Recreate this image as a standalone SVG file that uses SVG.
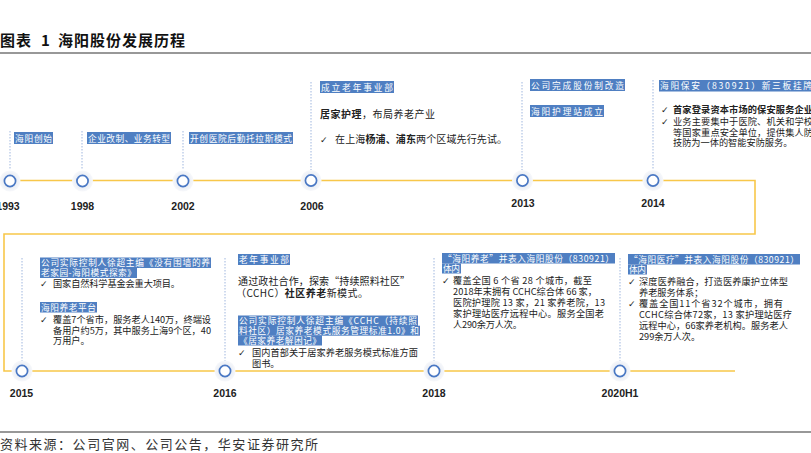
<svg xmlns="http://www.w3.org/2000/svg" width="811" height="453" viewBox="0 0 811 453">
<style>
.t{font-family:"Noto Sans CJK SC","Liberation Sans",sans-serif;}
.title{font-family:"Noto Sans CJK SC",sans-serif;font-size:15px;font-weight:bold;fill:#111;}
.hl{fill:#4f7fc2;}
.ht{font-family:"Noto Sans CJK SC",sans-serif;font-size:8.7px;fill:#fff;}
.bt{font-family:"Noto Sans CJK SC",sans-serif;font-size:9.2px;fill:#222;}
.bt10{font-family:"Noto Sans CJK SC",sans-serif;font-size:10px;fill:#222;}
.ck{font-family:"DejaVu Sans",sans-serif;font-size:9px;fill:#222;}
.b{font-weight:bold;}
.yr{font-family:"Liberation Sans",sans-serif;font-size:10.5px;font-weight:bold;fill:#222;text-anchor:middle;}
.dot{stroke:#9fb6de;stroke-width:1;stroke-dasharray:1.5 1.5;fill:none;}
.tl{stroke:#f8c74a;stroke-width:1.6;fill:none;}
.rule{stroke:#333;stroke-width:1.2;}
.src{font-family:"Noto Sans CJK SC",sans-serif;font-size:13px;fill:#333;}
</style>
<defs>
<radialGradient id="halo">
<stop offset="0.55" stop-color="#e9edf4"/>
<stop offset="1" stop-color="#f7f8fb"/>
</radialGradient>
<g id="knot">
<circle r="10.5" fill="url(#halo)"/>
<circle r="5.6" fill="#fff" stroke="#4a78c4" stroke-width="1.7"/>
</g>
</defs>
<rect width="811" height="453" fill="#fff"/>

<text class="title" y="46"><tspan x="0" textLength="31">图表</tspan><tspan x="41">1</tspan><tspan x="58" textLength="127">海阳股份发展历程</tspan></text>
<line class="rule" x1="0" y1="53" x2="811" y2="53"/>

<g id="connectors">
<path class="tl" d="M0 180.5 H755 V234 H4 V371 H735"/>
<line class="dot" x1="10" y1="131" x2="10" y2="170"/>
<line class="dot" x1="82" y1="131" x2="82" y2="170"/>
<line class="dot" x1="183" y1="131" x2="183" y2="170"/>
<line class="dot" x1="311" y1="82" x2="311" y2="170"/>
<line class="dot" x1="522" y1="82" x2="522" y2="170"/>
<line class="dot" x1="653" y1="80" x2="653" y2="170"/>
<line class="dot" x1="22" y1="258" x2="22" y2="361"/>
<line class="dot" x1="225" y1="258" x2="225" y2="361"/>
<line class="dot" x1="434" y1="258" x2="434" y2="361"/>
<line class="dot" x1="620" y1="258" x2="620" y2="361"/>
</g>

<g id="n1993">
<use href="#knot" x="10" y="181"/>
<text class="yr" x="8" y="210">1993</text>
<rect class="hl" x="14" y="132" width="39" height="12"/>
<text class="ht" x="15" y="141.5" textLength="37">海阳创始</text>
</g>

<g id="n1998">
<use href="#knot" x="82.5" y="181"/>
<text class="yr" x="82.5" y="210">1998</text>
<rect class="hl" x="87" y="132" width="84" height="12"/>
<text class="ht" x="88" y="141.5" textLength="82">企业改制、业务转型</text>
</g>

<g id="n2002">
<use href="#knot" x="183" y="181"/>
<text class="yr" x="183" y="210">2002</text>
<rect class="hl" x="189" y="132" width="104" height="12"/>
<text class="ht" x="190" y="141.5" textLength="102">开创医院后勤托拉斯模式</text>
</g>

<g id="n2006">
<use href="#knot" x="311" y="180.5"/>
<text class="yr" x="312" y="210">2006</text>
<rect class="hl" x="320" y="81" width="74" height="12"/>
<text class="ht" x="321" y="90.5" textLength="72">成立老年事业部</text>
<text class="bt10" x="320" y="118" textLength="115"><tspan class="b">居家护理</tspan>，布局养老产业</text>
<text class="ck" x="320" y="143">✓</text>
<text class="bt10" x="335" y="143" textLength="172">在上海<tspan class="b">杨浦、浦东</tspan>两个区域先行先试。</text>
</g>

<g id="n2013">
<use href="#knot" x="522.5" y="180.5"/>
<text class="yr" x="523" y="207">2013</text>
<rect class="hl" x="530" y="79" width="95" height="12"/>
<text class="ht" x="531" y="88.5" textLength="93">公司完成股份制改造</text>
<rect class="hl" x="530" y="105" width="74" height="12"/>
<text class="ht" x="531" y="114.5" textLength="72">海阳护理站成立</text>
</g>

<g id="n2014">
<use href="#knot" x="653" y="180.5"/>
<text class="yr" x="653" y="207">2014</text>
<rect class="hl" x="659" y="80" width="160" height="11.5"/>
<text class="ht" x="660" y="89" textLength="152">海阳保安（830921）新三板挂牌</text>
<text class="ck" x="661" y="113">✓</text>
<text class="bt b" x="673" y="113" textLength="140">首家登录资本市场的保安服务企业</text>
<text class="ck" x="661" y="124.5">✓</text>
<text class="bt" x="673" y="124.5" textLength="140">业务主要集中于医院、机关和学校</text>
<text class="bt" x="673" y="135.5" textLength="140">等国家重点安全单位，提供集人防</text>
<text class="bt" x="673" y="146">技防为一体的智能安防服务。</text>
</g>

<g id="n2015">
<use href="#knot" x="22" y="371"/>
<text class="yr" x="21.5" y="397">2015</text>
<rect class="hl" x="40" y="257.5" width="171" height="10.5"/>
<text class="ht" x="41" y="266" textLength="169">公司实际控制人徐超主编《没有围墙的养</text>
<rect class="hl" x="40" y="268" width="97" height="10"/>
<text class="ht" x="41" y="276" textLength="95">老家园-海阳模式探索》</text>
<text class="ck" x="40" y="287">✓</text>
<text class="bt" x="53" y="287" textLength="127">国家自然科学基金会重大项目。</text>
<rect class="hl" x="40" y="302" width="57" height="10.5"/>
<text class="ht" x="41" y="310.5" textLength="55">海阳养老平台</text>
<text class="ck" x="40" y="323">✓</text>
<text class="bt" x="53" y="323" textLength="158">覆盖7个省市，服务老人140万，终端设</text>
<text class="bt" x="53" y="333.5" textLength="158">备用户约5万，其中服务上海9个区，40</text>
<text class="bt" x="53" y="344">万用户。</text>
</g>

<g id="n2016">
<use href="#knot" x="225" y="371"/>
<text class="yr" x="225" y="397">2016</text>
<rect class="hl" x="238" y="254" width="52" height="11"/>
<text class="ht" x="239" y="262.5" textLength="50">老年事业部</text>
<text class="bt10" x="238" y="285" textLength="172">通过政社合作，探索“持续照料社区”</text>
<text class="bt10" x="236" y="297" textLength="132">（CCHC）<tspan class="b">社区养老</tspan>新模式。</text>
<rect class="hl" x="238" y="315.5" width="180" height="10.5"/>
<text class="ht" x="239" y="323.5" textLength="178">公司实际控制人徐超主编《CCHC（持续照</text>
<rect class="hl" x="238" y="325.7" width="182" height="10"/>
<text class="ht" x="239" y="333.5" textLength="180">料社区）居家养老模式服务管理标准1.0》和</text>
<rect class="hl" x="238" y="335.5" width="84" height="10"/>
<text class="ht" x="239" y="343.5" textLength="82">《居家养老解困记》</text>
<text class="ck" x="238" y="356">✓</text>
<text class="bt" x="252" y="356" textLength="166">国内首部关于居家养老服务模式标准方面</text>
<text class="bt" x="252" y="367">图书。</text>
</g>

<g id="n2018">
<use href="#knot" x="434" y="371"/>
<text class="yr" x="434" y="397">2018</text>
<rect class="hl" x="442" y="253" width="173" height="10.5"/>
<text class="ht" x="443" y="261.5" textLength="171">“海阳养老”并表入海阳股份（830921）</text>
<rect class="hl" x="442" y="263.5" width="19" height="10"/>
<text class="ht" x="443" y="271.5" textLength="17">体内</text>
<text class="ck" x="442" y="284">✓</text>
<text class="bt" x="453" y="284" textLength="139">覆盖全国 6 个省 28 个城市，截至</text>
<text class="bt" x="453" y="295" textLength="144">2018年末拥有 CCHC综合体 66 家，</text>
<text class="bt" x="453" y="306" textLength="152">医院护理院 13 家，21 家养老院，13</text>
<text class="bt" x="453" y="317" textLength="151">家护理站医疗远程中心。服务全国老</text>
<text class="bt" x="453" y="328" textLength="69">人290余万人次。</text>
</g>

<g id="n2020H1">
<use href="#knot" x="620" y="371"/>
<text class="yr" x="620" y="397">2020H1</text>
<rect class="hl" x="628" y="254" width="172" height="10.5"/>
<text class="ht" x="629" y="262.5" textLength="170">“海阳医疗”并表入海阳股份（830921）</text>
<rect class="hl" x="628" y="264.5" width="19" height="10"/>
<text class="ht" x="629" y="272.5" textLength="17">体内</text>
<text class="ck" x="628" y="285">✓</text>
<text class="bt" x="639" y="285" textLength="149">深度医养融合，打造医养康护立体型</text>
<text class="bt" x="639" y="296">养老服务体系；</text>
<text class="ck" x="628" y="307">✓</text>
<text class="bt" x="639" y="307" textLength="144">覆盖全国11个省32个城市，拥有</text>
<text class="bt" x="639" y="318" textLength="153">CCHC综合体72家，13 家护理站医疗</text>
<text class="bt" x="639" y="329" textLength="149">远程中心，66家养老机构。服务老人</text>
<text class="bt" x="639" y="340">299余万人次。</text>
</g>

<line class="rule" x1="0" y1="432" x2="811" y2="432"/>
<text class="src" x="0" y="449" textLength="318">资料来源：公司官网、公司公告，华安证券研究所</text>
</svg>
